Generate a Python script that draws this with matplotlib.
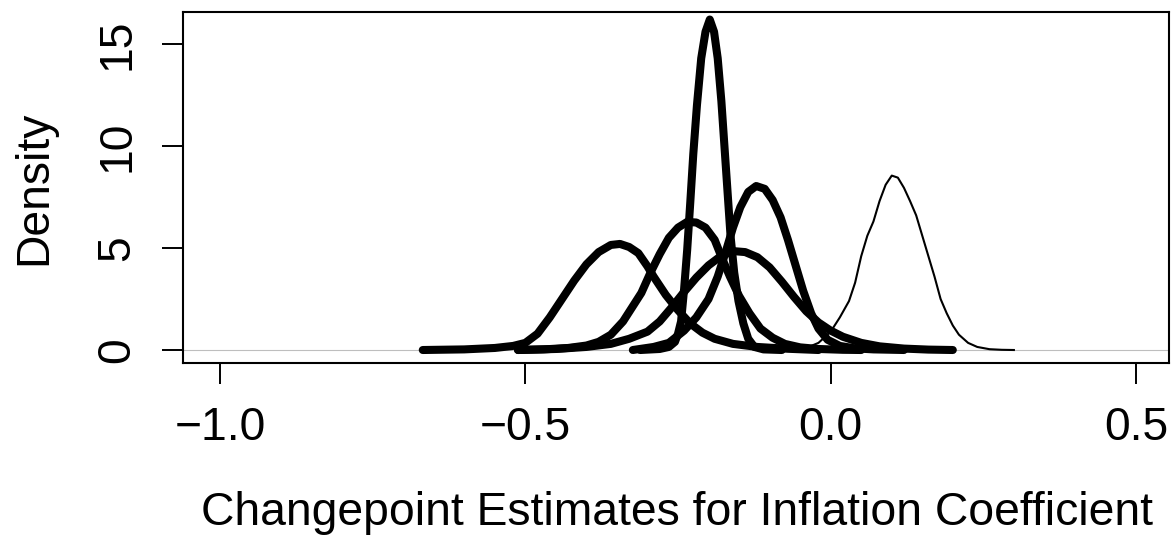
import matplotlib
matplotlib.use("Agg")
import matplotlib.pyplot as plt

plt.rcParams['font.family'] = ['Liberation Sans', 'DejaVu Sans']

# --- density curves (x, density) ---
thin_x = [-0.08, -0.04, -0.02, 0.0, 0.015, 0.03, 0.04, 0.05, 0.06, 0.07, 0.08, 0.09, 0.10,
          0.11, 0.12, 0.13, 0.14, 0.15, 0.16, 0.17, 0.18, 0.19, 0.20, 0.21, 0.225, 0.24,
          0.26, 0.28, 0.30]
thin_y = [0.0, 0.1, 0.35, 0.9, 1.6, 2.4, 3.3, 4.6, 5.6, 6.3, 7.3, 8.1, 8.55,
          8.45, 7.95, 7.3, 6.6, 5.6, 4.6, 3.6, 2.5, 1.8, 1.2, 0.75, 0.35, 0.15,
          0.04, 0.01, 0.0]

a_x = [-0.668, -0.60, -0.55, -0.52, -0.50, -0.48, -0.46, -0.44, -0.42, -0.40, -0.38, -0.36,
       -0.345, -0.33, -0.315, -0.30, -0.29, -0.27, -0.25, -0.23, -0.21, -0.19, -0.16,
       -0.12, -0.07, -0.02]
a_y = [0.0, 0.03, 0.1, 0.2, 0.35, 0.8, 1.6, 2.5, 3.4, 4.2, 4.8, 5.15,
       5.2, 5.05, 4.75, 4.1, 3.6, 2.7, 1.95, 1.3, 0.85, 0.55, 0.3,
       0.15, 0.06, 0.0]

b_x = [-0.512, -0.47, -0.43, -0.40, -0.38, -0.36, -0.34, -0.325, -0.31, -0.295, -0.28,
       -0.265, -0.25, -0.235, -0.22, -0.205, -0.19, -0.178, -0.165, -0.15, -0.133,
       -0.115, -0.095, -0.075, -0.05, -0.02, 0.02, 0.05]
b_y = [0.0, 0.03, 0.1, 0.22, 0.4, 0.75, 1.4, 2.1, 2.8, 3.8, 4.7,
       5.5, 6.0, 6.28, 6.25, 6.0, 5.4, 4.5, 3.6, 2.65, 1.8,
       1.05, 0.6, 0.3, 0.13, 0.05, 0.01, 0.0]

c_x = [-0.324, -0.29, -0.265, -0.24, -0.22, -0.20, -0.185, -0.172, -0.16, -0.148, -0.135,
       -0.122, -0.108, -0.095, -0.082, -0.07, -0.058, -0.045, -0.032, -0.02, -0.005,
       0.015, 0.04, 0.07, 0.12]
c_y = [0.0, 0.15, 0.35, 0.95, 1.6, 2.5, 3.6, 4.8, 6.0, 7.0, 7.75,
       8.04, 7.9, 7.35, 6.5, 5.4, 4.2, 2.9, 1.8, 1.05, 0.5,
       0.2, 0.08, 0.03, 0.0]

d_x = [-0.312, -0.28, -0.265, -0.255, -0.25, -0.245, -0.240, -0.235, -0.230, -0.225,
       -0.219, -0.212, -0.205, -0.198, -0.191, -0.185, -0.179, -0.174, -0.169, -0.164,
       -0.158, -0.151, -0.143, -0.135, -0.125, -0.11, -0.08]
d_y = [0.0, 0.05, 0.15, 0.4, 0.8, 1.4, 3.0, 4.9, 7.2, 9.6,
       12.0, 14.3, 15.6, 16.2, 15.6, 14.3, 12.2, 10.0, 7.8, 5.6,
       3.8, 2.4, 1.3, 0.55, 0.15, 0.03, 0.0]

e_x = [-0.512, -0.45, -0.40, -0.36, -0.33, -0.30, -0.28, -0.26, -0.24, -0.22, -0.20,
       -0.18, -0.16, -0.14, -0.12, -0.10, -0.08, -0.06, -0.04, -0.02, 0.0, 0.02,
       0.05, 0.08, 0.12, 0.16, 0.2]
e_y = [0.0, 0.05, 0.15, 0.3, 0.55, 0.9, 1.4, 2.1, 2.85, 3.55, 4.15,
       4.6, 4.85, 4.8, 4.55, 4.05, 3.35, 2.6, 1.9, 1.35, 0.95, 0.65,
       0.35, 0.18, 0.07, 0.02, 0.0]

thick_curves = [(a_x, a_y), (b_x, b_y), (c_x, c_y), (d_x, d_y), (e_x, e_y)]

x_ticks = [-1.0, -0.5, 0.0, 0.5]
x_labels = ["\u22121.0", "\u22120.5", "0.0", "0.5"]
y_ticks = [0, 5, 10, 15]
y_labels = ["0", "5", "10", "15"]

W, H = 1176, 537
fig = plt.figure(figsize=(W / 100, H / 100), dpi=100)
ax = fig.add_axes([183 / W, 1 - 363 / H, (1169 - 183) / W, (363 - 12) / H])

ax.axhline(0, color='#bebebe', lw=0.8, zorder=1)
ax.plot(thin_x, thin_y, color='black', lw=1.5, zorder=2)
for xs, ys in thick_curves:
    ax.plot(xs, ys, color='black', lw=5.8, solid_capstyle='round',
            solid_joinstyle='round', zorder=3)

ax.set_xlim(-1.0606, 0.554)
ax.set_ylim(-0.637, 16.57)

ax.set_xticks(x_ticks)
ax.set_xticklabels(x_labels)
ax.set_yticks(y_ticks)
ax.set_yticklabels(y_labels, rotation=90, va='center')

for s in ax.spines.values():
    s.set_linewidth(1.5)
ax.tick_params(axis='both', direction='out', length=15, width=1.4, labelsize=33.3)
ax.tick_params(axis='x', pad=16)
ax.tick_params(axis='y', pad=16.5)

fig.text(677 / W, 1 - 525 / H, "Changepoint Estimates for Inflation Coefficient",
         fontsize=33.3, ha='center', va='baseline')
fig.text(46 / W, 1 - 187.5 / H, "Density", fontsize=33.3, rotation=90,
         rotation_mode='anchor', ha='center', va='baseline')

fig.savefig("out.png", dpi=100)
